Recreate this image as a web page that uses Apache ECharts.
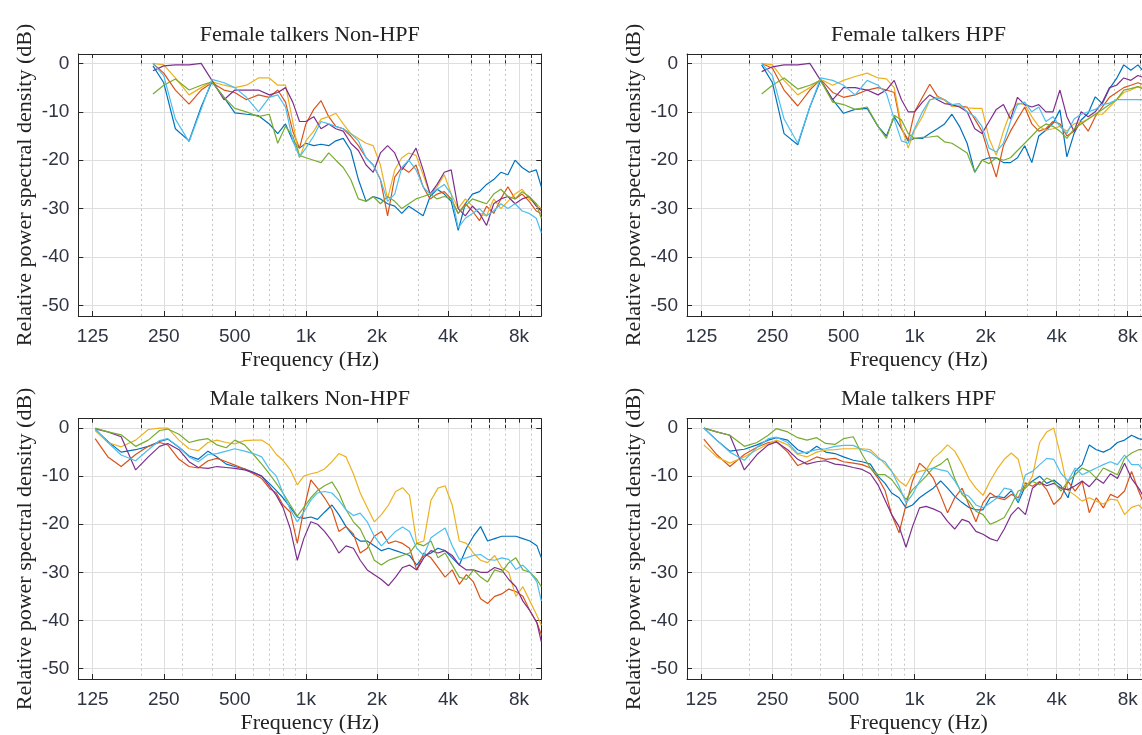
<!DOCTYPE html>
<html>
<head>
<meta charset="utf-8">
<title>Relative power spectral density</title>
<script src="https://cdn.jsdelivr.net/npm/echarts@6/dist/echarts.min.js"></script>
<style>
  html, body { margin: 0; padding: 0; background: #fff; overflow: hidden; }
  /* the right column runs past the window edge, like in the source figure */
  #chart { width: 1180px; height: 735px; }
</style>
</head>
<body>
<div id="chart"></div>
<script>
// frequency points (Hz)
var femaleFreq = [225, 250, 280, 320, 360, 400, 450, 500, 560, 630, 700, 760, 820, 880, 940, 1000, 1080, 1160, 1250, 1340, 1440, 1550, 1670, 1800, 1930, 2070, 2220, 2380, 2550, 2730, 2930, 3140, 3360, 3600, 3860, 4130, 4420, 4740, 5080, 5440, 5830, 6250, 6700, 7180, 7700, 8250, 8840, 9470, 9950];
var maleFreq = [128, 145, 165, 190, 215, 240, 260, 290, 320, 350, 385, 420, 460, 500, 550, 600, 650, 700, 750, 800, 860, 920, 980, 1050, 1120, 1200, 1290, 1380, 1480, 1590, 1700, 1820, 1950, 2090, 2240, 2400, 2570, 2750, 2950, 3160, 3390, 3630, 3890, 4170, 4470, 4790, 5130, 5500, 5890, 6310, 6760, 7240, 7760, 8310, 8900, 9530, 9950];

// Female talkers Non-HPF (dB)
var fnBlue = [-0.5, -4, -13.5, -16, -9, -3.8, -7, -10.2, -10.5, -10.8, -12.5, -14.5, -12.5, -16, -17.5, -16.5, -17, -16.7, -17, -16, -15.5, -18, -24, -28.5, -27.5, -28, -29, -29.5, -31, -29.5, -30.5, -31.5, -27.5, -26, -27, -28.5, -34.5, -29, -27, -26.5, -25, -24, -22.5, -23, -20, -21.5, -22.5, -22, -25.5];
var fnRed = [0, -2, -5.5, -8.4, -5.5, -4, -5.5, -6, -7.5, -6.5, -7, -5.5, -8, -14, -17.5, -12.5, -9.5, -7.7, -11, -13, -13.5, -15, -17, -19.5, -21, -24, -31.5, -23.5, -21.5, -22.5, -21, -25.5, -28, -27, -26.5, -28, -31, -29, -30.5, -32.5, -29.5, -31, -28, -25.5, -28, -27, -28.5, -30.5, -31];
var fnYellow = [0, -0.3, -3, -6.5, -5, -3.8, -4.5, -5, -4.5, -3, -3, -4.5, -4.5, -12, -19.5, -16, -14, -11.5, -11, -10.3, -12.5, -14.5, -15.5, -16.5, -17, -21, -28, -22, -19.5, -18.5, -19, -23, -27, -25.5, -23, -27, -30, -28, -29.5, -31, -31.5, -28, -30, -28.5, -27, -26, -28, -29, -30];
var fnPurple = [-1.5, -0.5, -0.3, -0.3, 0, -3.5, -7.5, -5.5, -5.5, -5.5, -6.5, -6, -5, -8, -12, -12, -11, -13.5, -12.5, -13.5, -14, -16.5, -18, -21, -22.5, -18.5, -17, -18.5, -22, -20, -17.5, -22, -27, -25, -22.5, -22, -30, -31.5, -29.5, -31, -33.5, -29, -28, -27.5, -29, -28, -27.5, -29.5, -30.5];
var fnGreen = [-6.3, -4.5, -3.2, -5.5, -4.5, -3.8, -7, -9.3, -10, -11, -10.5, -16.5, -13, -15, -19, -19.5, -20, -20.5, -18.5, -20, -21.5, -24, -28, -28.5, -27.5, -29, -27.5, -28.5, -30, -29, -28, -27.5, -27, -28, -27.5, -28, -31, -29.5, -28, -28.5, -29, -27, -26, -27.5, -28, -26.5, -27.5, -29, -32];
var fnCyan = [0, -2.5, -11.5, -16.2, -9.5, -3.3, -4, -5, -7, -10, -7, -6.5, -9, -16, -19.3, -17.5, -15, -12, -12.5, -13, -13.5, -14.5, -16, -19.5, -21, -24, -28.5, -27, -21.5, -20, -22, -25.5, -27, -26, -25, -27, -34, -32, -31, -30, -31.5, -30.5, -29, -30, -29, -30.5, -31, -32, -35];

// Female talkers HPF (dB)
var fhBlue = [-0.3, -4, -14.5, -16.8, -9, -3.5, -7.5, -10.3, -9.5, -9.3, -13, -15, -11, -13.5, -16, -15.5, -15.5, -14.5, -13.5, -12.5, -10.5, -13, -16.5, -22.5, -20, -19.5, -19.5, -20.5, -20.5, -19.5, -17, -20.5, -15, -13.8, -12.4, -9.6, -19.3, -14.5, -11.7, -10.3, -6.9, -8.3, -5.2, -3.1, -0.3, -1.4, -0.3, -2, -3];
var fhRed = [0, -1, -5.5, -8.8, -5.5, -3.3, -6, -7, -6.5, -5.5, -5, -5.5, -6, -13.5, -15.8, -10, -7, -4.3, -6.8, -7.5, -8.8, -8.8, -9, -11.5, -14, -19, -23.5, -17, -14, -11.5, -9, -12.5, -14, -13.5, -12, -12.5, -15, -14, -12, -14, -11, -9, -7, -6, -5, -4.5, -4, -4.5, -5];
var fhYellow = [0, -0.3, -3.5, -6.5, -5, -3.3, -4.5, -3.5, -2.7, -2, -3, -3.2, -5, -13, -17.5, -13.8, -11, -7.6, -6.9, -7.6, -8.9, -8.9, -9.2, -9.3, -9.3, -15.5, -19, -14, -10, -8.2, -8.5, -11, -13, -13.8, -13.5, -13, -14, -12.5, -12.2, -11.5, -10.5, -10.5, -9, -7.5, -6, -5.5, -4.8, -5, -5.5];
var fhPurple = [-1.7, -0.7, -0.3, -0.3, 0, -3.5, -7.5, -5, -5, -5.5, -6.5, -5.5, -3.5, -7.5, -10, -10, -8, -6.5, -7.5, -8.3, -8.5, -9, -10, -13.5, -14.5, -12, -9.5, -8.5, -11.5, -7, -8.5, -9, -8.5, -10, -10, -5.5, -11, -14, -10, -11, -10, -8, -5, -4.5, -3, -3.5, -2.5, -3, -3.5];
var fhGreen = [-6.3, -4.5, -3, -5.3, -4.5, -3.5, -8, -8.5, -9.5, -9, -13, -15.5, -10.7, -11.7, -14.5, -15.5, -15.3, -15.2, -15, -16.2, -16.5, -17.5, -18.5, -22.5, -20, -20.7, -19.5, -20, -19.5, -18, -16.5, -15, -13.5, -12.5, -13, -14, -15.5, -13.5, -12.5, -11.5, -10.5, -9.5, -8.5, -7.5, -5.5, -5.2, -4.8, -5.5, -6];
var fhCyan = [0, -2.5, -11.5, -16.5, -9, -3, -3.5, -4.5, -6.5, -3.5, -4.5, -6.2, -11.5, -16, -16.5, -13.5, -10, -7.5, -7.2, -7.5, -8.5, -8.3, -10, -11, -13, -17.5, -18.3, -16.5, -12, -8.5, -8, -10, -9, -12, -11, -13, -14.5, -11.5, -10.5, -10, -9.5, -8.5, -8.2, -7.5, -7.5, -7.5, -7.5, -7.5, -8];

// Male talkers Non-HPF (dB)
var mnBlue = [-0.3, -2.8, -5, -4.5, -3.8, -2.8, -2.3, -4, -5.8, -6.5, -4.8, -6, -7.5, -8, -8.5, -9.2, -10, -11.5, -13, -14.5, -16.5, -18.5, -18.8, -18.5, -19, -17.5, -16, -18, -20.5, -22.5, -23.5, -23.5, -24.5, -25.5, -25, -25.5, -26, -26.5, -28.5, -26.5, -26, -25, -25.5, -27, -28.5, -25, -22.5, -20.5, -23.5, -23, -22.5, -22.5, -22.5, -23, -23.5, -24.5, -27];
var mnRed = [-2.2, -6, -8, -5.5, -3.8, -3, -3.5, -6.5, -8, -8.3, -6.8, -6.3, -7, -7.7, -8.5, -9.5, -10.5, -12.5, -13.5, -16, -17.5, -24, -17, -10.8, -12.5, -14.5, -17, -21.5, -20.5, -22, -26, -25, -22.5, -21.5, -24, -23.5, -24, -25, -29.5, -26, -27, -29, -31, -29.5, -32.5, -30.5, -32, -35.5, -36.5, -35, -34.5, -33.5, -34, -35, -38, -40.5, -43];
var mnYellow = [-0.5, -3, -3.9, -2.5, -0.3, 0, 0, -2.5, -4.3, -4.7, -3, -2.5, -3, -3.3, -2.6, -2.5, -2.5, -3.5, -5.5, -6.7, -8.7, -11.8, -10, -9.5, -9.2, -8.5, -7, -5.3, -6, -9.5, -13.5, -16.5, -19.5, -18, -16, -13.2, -12.4, -14, -24, -23.5, -15, -12.5, -12, -16, -23.5, -24, -26, -27.5, -28, -26.5, -29, -30, -35, -33, -36, -39, -41];
var mnPurple = [-0.2, -0.8, -1.8, -8.7, -6, -3.8, -3.2, -4.5, -7, -8.2, -8.4, -8, -8.2, -8.4, -8.7, -9.3, -10, -12, -14, -16.5, -21, -27.5, -23, -19.5, -20, -21.5, -23.5, -26, -24.5, -25, -27.5, -29.5, -30.5, -31.5, -32.8, -31, -29, -28.5, -29.5, -27, -25.5, -26, -25.5, -26.5, -28.5, -29.5, -29.5, -30, -30, -29, -29.5, -31.5, -33, -36, -38, -40.5, -44.5];
var mnGreen = [0, -0.8, -1.4, -3.8, -2.5, -0.5, -0.2, -1.3, -3, -2.5, -2.2, -3.5, -4.1, -2.5, -3.5, -5.5, -7.5, -9.5, -11.5, -13.5, -16, -18.3, -16.5, -14.5, -13, -12, -11.2, -13.5, -17, -19.5, -21, -24, -27.5, -28.5, -27.5, -27, -26.5, -26, -24, -24.5, -23.5, -27, -26, -28.5, -31, -31.5, -29.5, -31, -32, -29.5, -30, -28, -27, -29.5, -30, -31.5, -33];
var mnCyan = [-0.1, -3, -5.6, -6.8, -4.5, -2.6, -2.2, -4, -6, -7, -5.5, -5.3, -4.8, -4.3, -4.8, -5.3, -6, -8.5, -10, -13.5, -17, -19.5, -17.5, -15, -13.5, -13.2, -13.5, -15, -17, -18.2, -17.7, -19.5, -22.5, -24.5, -23, -21.5, -20.6, -21.5, -25, -26.5, -22.8, -21.8, -20.8, -24.5, -27.3, -27, -26.5, -26.3, -27.3, -27.5, -27, -27.3, -29.4, -28.5, -30, -32, -36];

// Male talkers HPF (dB)
var mhBlue = [0, -2.5, -4.8, -4.4, -3.5, -2.5, -2, -2.5, -4.5, -5.3, -3.8, -5, -5.3, -6, -6.7, -7, -7.5, -10, -11.5, -13.5, -14.5, -16.6, -16, -14.5, -13.5, -12.5, -11, -12.5, -14.2, -15.5, -16.5, -17, -17, -14.5, -14.2, -14.5, -13, -15.5, -12, -11, -10, -11.5, -10.8, -12, -14.5, -9, -7.6, -3.5, -4.5, -5, -4.3, -3, -2.5, -1.5, -2.2, -2.5, -2.5];
var mhRed = [-2.3, -5.5, -8, -5.5, -4, -3, -2.8, -5, -7.8, -7, -6, -6.5, -6.3, -7, -7.3, -7.6, -8.3, -10.4, -13, -18, -21.8, -16, -11, -7.3, -8.5, -10.4, -14, -17.6, -14.5, -12.5, -16, -19.5, -15.5, -13.5, -14.5, -14.9, -13.8, -14.5, -11.4, -12.1, -11.1, -12.8, -15.9, -14.5, -11.1, -13.1, -11.1, -17.6, -14.5, -16.6, -13.8, -14.5, -13.1, -9, -13.1, -16.6, -17];
var mhYellow = [-3.5, -6, -7.3, -6, -4.5, -3.3, -2.5, -3.5, -5.5, -6, -5, -4.6, -4.5, -4.3, -4.3, -4.3, -4.5, -6, -7.5, -9, -11, -12.1, -9.7, -9, -8.7, -6.3, -5, -3.5, -4.8, -7.5, -10.5, -12.5, -14, -11, -8.5, -6.5, -5.2, -6.5, -12.5, -10, -3, -0.8, 0, -6, -13, -14, -15.2, -14.5, -15.2, -15.8, -14.8, -15, -18, -16.5, -16, -17.5, -17];
var mhPurple = [0, -0.8, -1.5, -8.7, -5.5, -3.5, -2.9, -4.5, -6.5, -7.5, -7, -6.8, -7.5, -7.7, -8.2, -8.6, -9.5, -11.8, -15, -18, -20.5, -24.8, -20.5, -16.6, -16.3, -16.8, -17.5, -19.4, -21, -19, -19.5, -21.5, -22.1, -23, -23.5, -21, -18, -16.5, -18, -12.5, -11.3, -12, -11.5, -12.5, -12.8, -12, -11, -12.2, -10.5, -11.5, -9.5, -10.5, -7.3, -10.5, -12.5, -15, -17];
var mhGreen = [0, -0.8, -1.5, -3.8, -3, -1.5, -0.1, -0.8, -2, -2.5, -2, -3.2, -3.4, -2.2, -1.8, -5.5, -8.3, -9.7, -9.7, -10.7, -12.8, -14.9, -12.8, -11.4, -10, -8.3, -7.5, -6.3, -10.5, -13.8, -15.2, -17.3, -18, -20, -19.4, -18.6, -16, -13.1, -12.5, -11.1, -11.8, -10.4, -11.1, -13.1, -11.1, -9.7, -8.3, -9, -10.4, -8.3, -9, -9.7, -6.3, -5.2, -4.5, -4.5, -5.5];
var mhCyan = [0, -2.5, -5, -6.7, -4, -2.2, -1.9, -3, -5.3, -5, -4.5, -4.3, -3.8, -3.6, -3.6, -4.5, -5, -6.3, -7, -9, -12.1, -15.6, -13.8, -11, -8.7, -8.3, -8.7, -9, -11, -13.5, -14.2, -16, -16.6, -15.6, -14.5, -12.5, -12.8, -15.2, -9.7, -9, -7.6, -6.3, -6.5, -9.4, -11, -8.3, -9.7, -9, -8.3, -7.6, -7, -7.6, -5.6, -7.6, -7.6, -9.3, -10];

// ticks
var majorFreq = [125, 250, 500, 1000, 2000, 4000, 8000];
var majorLabels = ['125', '250', '500', '1k', '2k', '4k', '8k'];
var minorFreq = [200, 300, 400, 600, 700, 800, 900, 3000, 5000, 6000, 7000, 9000];
var dbTicks = [-50, -40, -30, -20, -10, 0];
var freqRange = [108.6, 9946];
var dbRange = [-52.2, 1.95];

var lineColors = ['#0072bd', '#d95319', '#edb120', '#7e2f8e', '#77ac30', '#4dbeee'];
var boxColor = '#262626';
var tickFont = 'Liberation Sans, Arial, sans-serif';
var serifFont = 'Liberation Serif, Times New Roman, serif';

var panels = [
  { title: 'Female talkers Non-HPF', freq: femaleFreq, lines: [fnBlue, fnRed, fnYellow, fnPurple, fnGreen, fnCyan], left: 78.3, top: 54 },
  { title: 'Female talkers HPF', freq: femaleFreq, lines: [fhBlue, fhRed, fhYellow, fhPurple, fhGreen, fhCyan], left: 687, top: 54 },
  { title: 'Male talkers Non-HPF', freq: maleFreq, lines: [mnBlue, mnRed, mnYellow, mnPurple, mnGreen, mnCyan], left: 78.3, top: 418.7 },
  { title: 'Male talkers HPF', freq: maleFreq, lines: [mhBlue, mhRed, mhYellow, mhPurple, mhGreen, mhCyan], left: 687, top: 418.7 }
];
var plotW = 463, plotH = 262;

var xMin = Math.log2(freqRange[0]),
  xMax = Math.log2(freqRange[1]),
  majorX = majorFreq.map(function (f) { return Math.log2(f); }),
  minorX = minorFreq.map(function (f) { return Math.log2(f); });

function freqLabel(v) {
  for (var i = 0; i < majorX.length; i++) {
    if (Math.abs(majorX[i] - v) < 1e-6) return majorLabels[i];
  }
  return '';
}

function buildOption() {
  var grid = [], xAxis = [], yAxis = [], series = [], title = [];
  panels.forEach(function (p, i) {
    grid.push({ left: p.left, top: p.top, width: plotW, height: plotH });
    title.push({
      text: p.title,
      left: p.left + plotW / 2,
      top: p.top - 19,
      padding: 0,
      textAlign: 'center',
      textVerticalAlign: 'middle',
      textStyle: { fontFamily: serifFont, fontSize: 22, fontWeight: 'normal', color: '#222' }
    });
    // bottom axis: major ticks, labels, solid grid
    xAxis.push({
      gridIndex: i, type: 'value', position: 'bottom', min: xMin, max: xMax,
      axisLine: { show: true, onZero: false, lineStyle: { color: boxColor, width: 1 } },
      axisTick: { show: true, inside: true, length: 5, customValues: majorX, lineStyle: { color: boxColor } },
      axisLabel: { customValues: majorX, formatter: freqLabel, margin: 11, fontSize: 19, fontFamily: tickFont, color: '#2e3442' },
      splitLine: { show: true, lineStyle: { color: '#dedede', width: 1 } },
      name: 'Frequency (Hz)', nameLocation: 'middle', nameGap: 33,
      nameTextStyle: { fontFamily: serifFont, fontSize: 22, color: '#222' }
    });
    // bottom axis: minor ticks and dotted grid
    xAxis.push({
      gridIndex: i, type: 'value', position: 'bottom', min: xMin, max: xMax,
      axisLine: { show: false },
      axisTick: { show: true, inside: true, length: 3, customValues: minorX, lineStyle: { color: boxColor } },
      axisLabel: { show: false },
      splitLine: { show: true, lineStyle: { color: '#c6c6c6', width: 1, type: [2, 3] } }
    });
    // top edge of the box
    xAxis.push({
      gridIndex: i, type: 'value', position: 'top', min: xMin, max: xMax,
      axisLine: { show: true, onZero: false, lineStyle: { color: boxColor, width: 1 } },
      axisTick: { show: true, inside: true, length: 4, customValues: majorX.concat(minorX), lineStyle: { color: boxColor } },
      axisLabel: { show: false },
      splitLine: { show: false }
    });
    yAxis.push({
      gridIndex: i, type: 'value', position: 'left', min: dbRange[0], max: dbRange[1],
      axisLine: { show: true, onZero: false, lineStyle: { color: boxColor, width: 1 } },
      axisTick: { show: true, inside: true, length: 5, customValues: dbTicks, lineStyle: { color: boxColor } },
      axisLabel: { customValues: dbTicks, margin: 9, fontSize: 19, fontFamily: tickFont, color: '#2e3442' },
      splitLine: { show: true, lineStyle: { color: '#dedede', width: 1 } },
      name: 'Relative power spectral density (dB)', nameLocation: 'middle', nameGap: 42, nameRotate: 90,
      nameTextStyle: { fontFamily: serifFont, fontSize: 22, color: '#222' }
    });
    yAxis.push({
      gridIndex: i, type: 'value', position: 'right', min: dbRange[0], max: dbRange[1],
      axisLine: { show: true, onZero: false, lineStyle: { color: boxColor, width: 1 } },
      axisTick: { show: true, inside: true, length: 5, customValues: dbTicks, lineStyle: { color: boxColor } },
      axisLabel: { show: false },
      splitLine: { show: false }
    });
    p.lines.forEach(function (vals, k) {
      series.push({
        type: 'line',
        xAxisIndex: i * 3,
        yAxisIndex: i * 2,
        symbol: 'none',
        silent: true,
        lineStyle: { width: 1.2, color: lineColors[k] },
        itemStyle: { color: lineColors[k] },
        data: p.freq.map(function (f, j) { return [Math.log2(f), vals[j]]; })
      });
    });
  });
  return { animation: false, backgroundColor: '#fff', title: title, grid: grid, xAxis: xAxis, yAxis: yAxis, series: series };
}

var myChart = echarts.init(document.getElementById('chart'), null, { renderer: 'canvas' });
myChart.setOption(buildOption(), true);
window.addEventListener('resize', function () {
  myChart.resize();
});
</script>
</body>
</html>
